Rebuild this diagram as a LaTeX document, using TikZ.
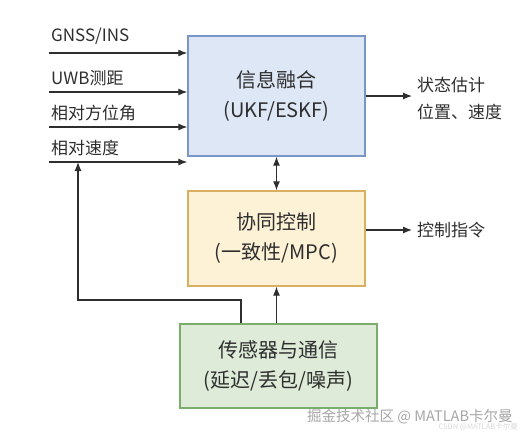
\documentclass[tikz,border=0pt]{standalone}
\usepackage{fontspec}
\setmainfont{Noto Sans CJK SC}
\usetikzlibrary{positioning,arrows.meta}

\definecolor{fusefill}{HTML}{DDE7F6}
\definecolor{fuseline}{HTML}{7A96C4}
\definecolor{ctrlfill}{HTML}{FDF1D6}
\definecolor{ctrlline}{HTML}{D9B062}
\definecolor{sensfill}{HTML}{DDEBD8}
\definecolor{sensline}{HTML}{78AD6A}
\definecolor{ink}{HTML}{2E2E2E}

\tikzset{
  block/.style={rectangle, draw, line width=1.3pt, align=center, text=ink,
    font=\fontsize{20}{30}\selectfont, inner sep=0pt},
  lbl/.style={anchor=west, text=ink, font=\fontsize{17}{27}\selectfont, inner sep=0pt},
  wire/.style={ink, line width=1.2pt}
}

\begin{document}
\begin{tikzpicture}[x=1pt, y=-1pt, >={Latex[length=9pt,width=7pt]}]
		% 0. Page size as in the reference
		\useasboundingbox (0,0) rectangle (522,437);

		% 1. The three blocks
		\node[block, fill=fusefill, draw=fuseline, minimum width=177pt, minimum height=120pt]
			(fusion) at (276.5,96) {信息融合\\(UKF/ESKF)};
		\node[block, fill=ctrlfill, draw=ctrlline, minimum width=177pt, minimum height=95pt]
			(ctrl) at (276.5,238.5) {协同控制\\(一致性/MPC)};
		\node[block, fill=sensfill, draw=sensline, minimum width=197pt, minimum height=84pt]
			(sensor) at (278.5,366) {传感器与通信\\(延迟/丢包/噪声)};

		% 2. Inputs on the left
		\coordinate (in1) at (49,53);
		\coordinate (in2) at (49,92);
		\coordinate (in3) at (49,127);
		\coordinate (in4) at (49,162);
		\node[lbl] (gnss) at (51,36) {GNSS/INS};
		\node[lbl] (uwb) at (51,78) {UWB测距};
		\node[lbl] (bear) at (51,113) {相对方位角};
		\node[lbl] (vel) at (51,148) {相对速度};
		\foreach \i in {1,...,4}
			\draw[wire, ->] (in\i) -- (fusion.west |- in\i);

		% 3. Outputs on the right
		\coordinate (out1) at (412,96);
		\coordinate (out2) at (412,230);
		\draw[wire, ->] (fusion.east |- out1) -- (out1);
		\draw[wire, ->] (ctrl.east |- out2) -- (out2);
		\node[lbl, align=left] (est) at (417,99) {状态估计\\位置、速度};
		\node[lbl] (cmd) at (417,230) {控制指令};

		% 4. Links between the blocks
		\draw[wire, <->] (fusion.south) -- (ctrl.north);
		\draw[wire, ->] (sensor.north -| ctrl.south) -- (ctrl.south);

		% 5. Feedback of the sensors into the relative speed input
		\coordinate (bend) at (78,300);
		\draw[wire, ->] ([xshift=-37.5pt]sensor.north) |- (bend) -- (bend |- in4);

		% 6. Watermark
		\node[anchor=west, text=gray!70, font=\fontsize{14.5}{16}\selectfont, inner sep=0pt]
			(mark) at (307,417) {掘金技术社区 @ MATLAB卡尔曼};
		\node[anchor=east, text=gray!30, font=\fontsize{7.5}{8}\selectfont, inner sep=0pt]
			(csdn) at (518,427) {CSDN @MATLAB卡尔曼};
	\end{tikzpicture}
\end{document}
